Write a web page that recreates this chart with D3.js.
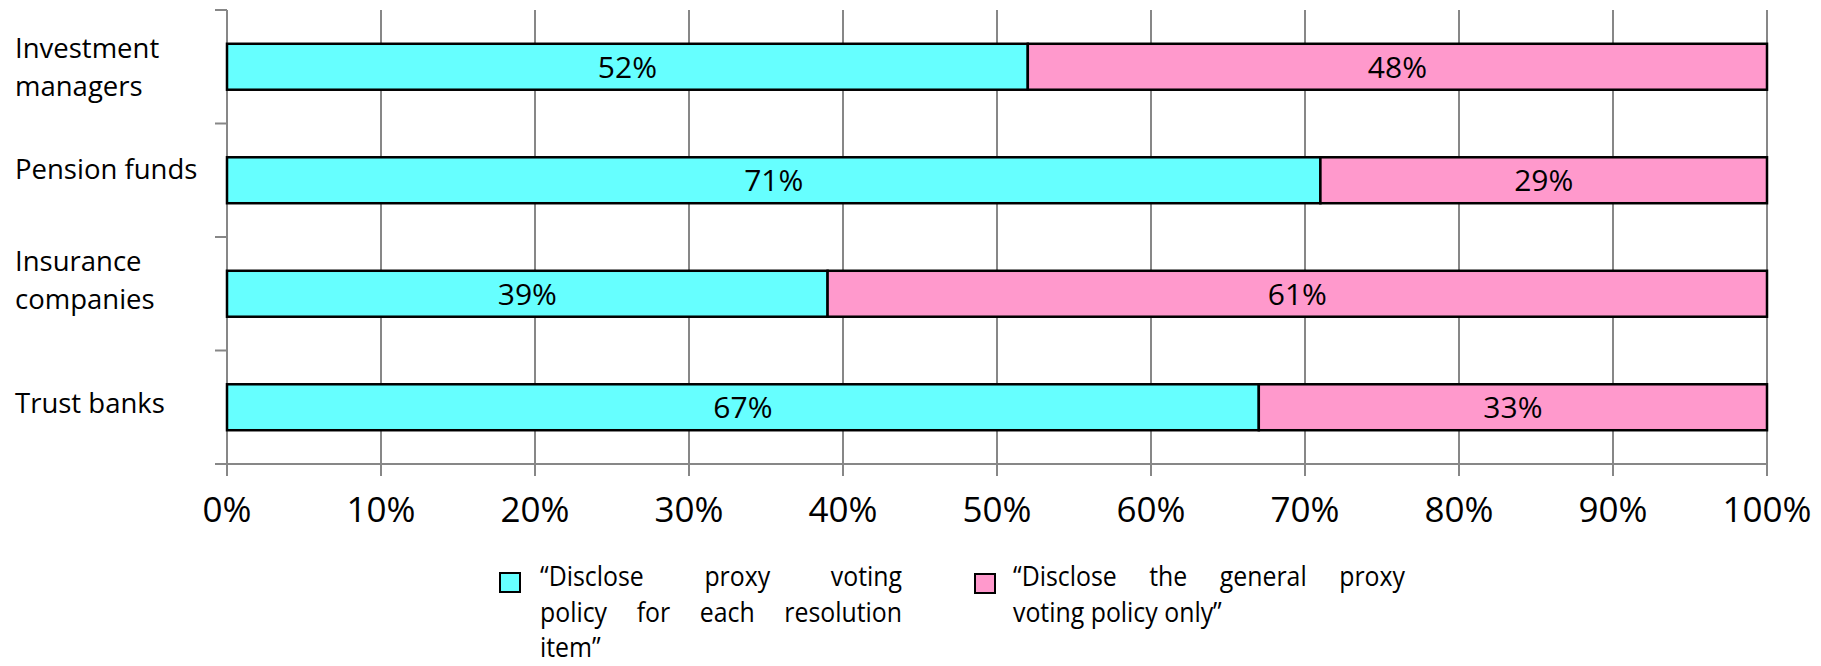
<!DOCTYPE html>
<html>
<head>
<meta charset="utf-8">
<script src="https://cdn.jsdelivr.net/npm/d3@7"></script>
<style>
  html, body { margin: 0; padding: 0; background: #fff; }
  svg { display: block; }
  text { font-family: "Open Sans", "Noto Sans", sans-serif; fill: #000; }
</style>
</head>
<body>
<svg id="chart" width="1821" height="666"></svg>
<script>
// Categories (top to bottom) and their label lines
const categories = ["Investment managers", "Pension funds", "Insurance companies", "Trust banks"];
const categoryLines = [["Investment", "managers"], ["Pension funds"], ["Insurance", "companies"], ["Trust banks"]];

// Share of respondents (%) per category
const perItem = [52, 71, 39, 67];     // disclose policy for each resolution item
const generalOnly = [48, 29, 61, 33]; // disclose the general policy only

const xTicks = [0, 10, 20, 30, 40, 50, 60, 70, 80, 90, 100];

const seriesNames = [
  ["\u201CDisclose proxy voting", "policy for each resolution", "item\u201D"],
  ["\u201CDisclose the general proxy", "voting policy only\u201D"]
];
const seriesColors = ["#66FFFF", "#FF99CC"];

// Layout
const plot = { left: 227, right: 1767, top: 10, bottom: 464 };
const gridColor = "#878787";
const labelNudge = [0, -11, -14, -4];

const svg = d3.select("#chart");

const x = d3.scaleLinear().domain([0, 100]).range([plot.left, plot.right]);
const y = d3.scaleBand().domain(categories).range([plot.top, plot.bottom]).padding(0);
const barH = y.bandwidth() * 0.405;

// Vertical gridlines
svg.append("g").selectAll("line").data(xTicks).join("line")
  .attr("x1", d => x(d)).attr("x2", d => x(d))
  .attr("y1", plot.top).attr("y2", plot.bottom + 12)
  .attr("stroke", gridColor).attr("stroke-width", 2);

// Bottom axis line
svg.append("line")
  .attr("x1", plot.left - 12).attr("x2", plot.right)
  .attr("y1", plot.bottom).attr("y2", plot.bottom)
  .attr("stroke", gridColor).attr("stroke-width", 2);

// Left axis ticks at category boundaries
const bounds = categories.map(c => y(c)).concat([plot.bottom]);
svg.append("g").selectAll("line").data(bounds).join("line")
  .attr("x1", plot.left - 12).attr("x2", plot.left)
  .attr("y1", d => d).attr("y2", d => d)
  .attr("stroke", gridColor).attr("stroke-width", 2);

// X tick labels
svg.append("g").selectAll("text").data(xTicks).join("text")
  .attr("x", d => x(d)).attr("y", 522)
  .attr("text-anchor", "middle")
  .style("font-size", "35px")
  .text(d => d + "%");

// Stacked bars
const rows = categories.map((c, i) => ({ cat: c, a: perItem[i], b: generalOnly[i] }));
const segs = [];
rows.forEach(r => {
  segs.push({ cat: r.cat, x0: 0, x1: r.a, v: r.a, s: 0 });
  segs.push({ cat: r.cat, x0: r.a, x1: r.a + r.b, v: r.b, s: 1 });
});

const barG = svg.append("g");
barG.selectAll("rect").data(segs).join("rect")
  .attr("x", d => x(d.x0))
  .attr("y", d => y(d.cat) + (y.bandwidth() - barH) / 2)
  .attr("width", d => x(d.x1) - x(d.x0))
  .attr("height", barH)
  .attr("fill", d => seriesColors[d.s])
  .attr("stroke", "#000").attr("stroke-width", 2.5);

barG.selectAll("text").data(segs).join("text")
  .attr("x", d => (x(d.x0) + x(d.x1)) / 2)
  .attr("y", d => y(d.cat) + y.bandwidth() / 2 + 11)
  .attr("text-anchor", "middle")
  .style("font-size", "30px")
  .text(d => d.v + "%");

// Category labels
const lineH = 38;
categories.forEach((c, i) => {
  const lines = categoryLines[i];
  const cy = y(c) + y.bandwidth() / 2 + labelNudge[i];
  const t = svg.append("text").attr("x", 15).style("font-size", "27.5px");
  lines.forEach((ln, j) => {
    t.append("tspan").attr("x", 15)
      .attr("y", cy + (j - (lines.length - 1) / 2) * lineH + 10)
      .text(ln);
  });
});

// Legend: justified lines, each word slightly condensed
const legendItems = [
  { box: [500, 573], textX: 540, textW: 362, baselines: [586, 622, 657] },
  { box: [975, 574], textX: 1013, textW: 392, baselines: [586, 622] }
];
const squeeze = 0.92;
const legendFont = 27;

legendItems.forEach((it, k) => {
  svg.append("rect")
    .attr("x", it.box[0]).attr("y", it.box[1])
    .attr("width", 20).attr("height", 19)
    .attr("fill", seriesColors[k]).attr("stroke", "#000").attr("stroke-width", 2);

  const lines = seriesNames[k];
  lines.forEach((ln, j) => {
    const t = svg.append("text")
      .attr("y", it.baselines[j])
      .style("font-size", legendFont + "px");
    const words = ln.split(" ");
    const spans = words.map(w => t.append("tspan").attr("x", it.textX).text(w));
    const widths = spans.map(s => s.node().getComputedTextLength() * squeeze);
    const total = d3.sum(widths);
    const last = j === lines.length - 1;
    const gap = (!last && words.length > 1)
      ? (it.textW - total) / (words.length - 1)
      : 6.5;
    let cx = it.textX;
    spans.forEach((s, m) => {
      s.attr("x", cx)
        .attr("textLength", widths[m])
        .attr("lengthAdjust", "spacingAndGlyphs");
      cx += widths[m] + gap;
    });
  });
});
</script>
</body>
</html>
